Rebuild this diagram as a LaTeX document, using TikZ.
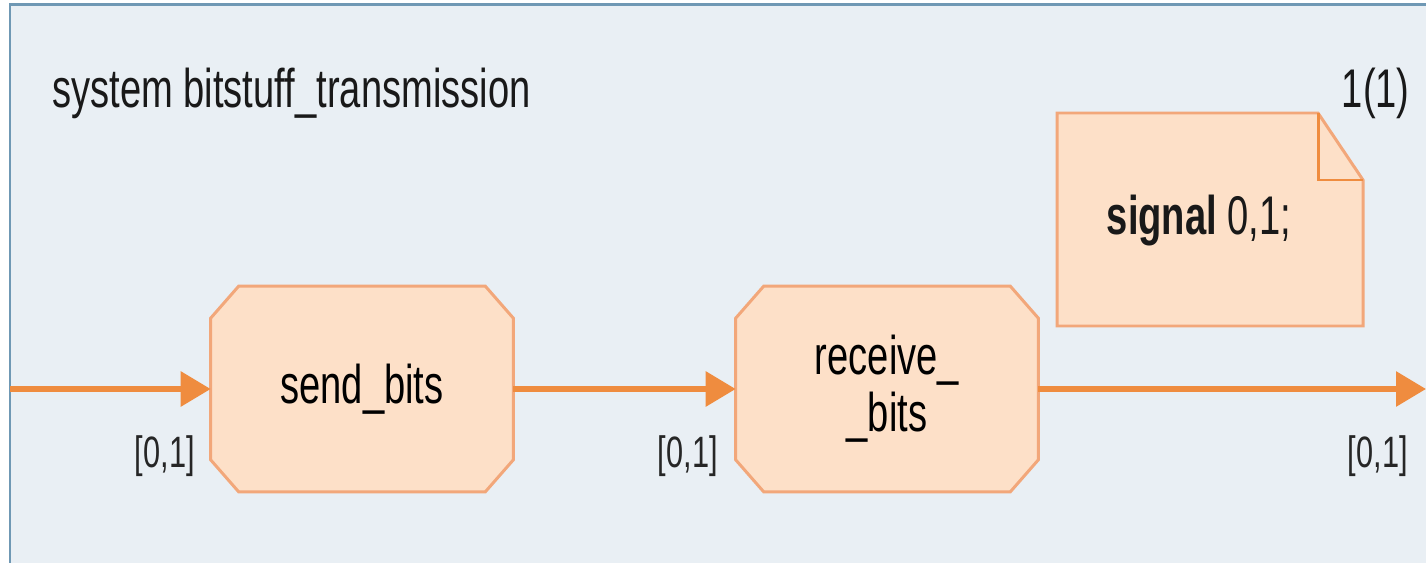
\documentclass[tikz,border=0pt]{standalone}
\usepackage{fontspec}
\setmainfont[FakeStretch=0.70]{Liberation Sans}
\usetikzlibrary{arrows.meta,backgrounds}

\definecolor{framebg}{HTML}{E9EFF4}
\definecolor{frameline}{HTML}{6F98B4}
\definecolor{blockfill}{HTML}{FDE0C8}
\definecolor{blockline}{HTML}{F2A77A}
\definecolor{flowline}{HTML}{EF8C3F}

% chamfered outline round a named node
\newcommand\octa[1]{%
	\draw[edge] ([xshift=0.56cm]#1.north west) -- ([xshift=-0.56cm]#1.north east)
		-- ([yshift=-0.64cm]#1.north east) -- ([yshift=0.64cm]#1.south east)
		-- ([xshift=-0.56cm]#1.south east) -- ([xshift=0.56cm]#1.south west)
		-- ([yshift=0.64cm]#1.south west) -- ([yshift=-0.64cm]#1.north west) -- cycle;}

\begin{document}
\begin{tikzpicture}[x=0.02cm, y=-0.02cm,
	blk/.style={minimum width=6.04cm, minimum height=4.1cm, inner sep=0pt, align=center, font=\fontsize{31}{32.3}\selectfont},
	edge/.style={draw=blockline, line width=1.7pt, fill=blockfill},
	flow/.style={draw=flowline, line width=3.4pt, -{Triangle[length=0.6cm, width=0.68cm]}},
	port/.style={anchor=base east, inner sep=0pt, text=black!85, font=\fontsize{25}{30}\selectfont},
	big/.style={inner sep=0pt, text=black!90, font=\fontsize{31}{36}\selectfont}]
\useasboundingbox (0,0) rectangle (1426,563);
\begin{scope}[on background layer]
	\fill[white] (0,0) rectangle (1426,563);
	\fill[framebg] (10,5) rectangle (1426,563);
	\draw[frameline, line width=1.7pt] (10,563) -- (10,5) -- (1426,5);
\end{scope}

\node[big, anchor=base west] (title) at (52,108) {system bitstuff\_transmission};
\node[big, anchor=base east] (page) at (1410,108) {1(1)};

% signal note
\draw[edge] (1057,113) -- (1318,113) -- (1363,180) -- (1363,326) -- (1057,326) -- cycle;
\draw[draw=flowline, line width=1.7pt] (1318,113) -- (1318,180) -- (1363,180);
\node[big, anchor=base] (sig) at (1199,235) {\textbf{signal} 0,1;};

\node[blk] (send) at (362,389) {send\_bits};
\node[blk] (recv) at (887,389) {receive\_\\\_bits};
\begin{scope}[on background layer]
	\octa{send}
	\octa{recv}
\end{scope}

\coordinate (in) at (10,389);
\coordinate (out) at (1426,389);
\draw[flow] (in) -- (send.west);
\draw[flow] (send.east) -- (recv.west);
\draw[flow] (recv.east) -- (out);

\node[port] (p1) at (195,467) {[0,1]};
\node[port] (p2) at (718,467) {[0,1]};
\node[port] (p3) at (1408,467) {[0,1]};
\end{tikzpicture}
\end{document}
